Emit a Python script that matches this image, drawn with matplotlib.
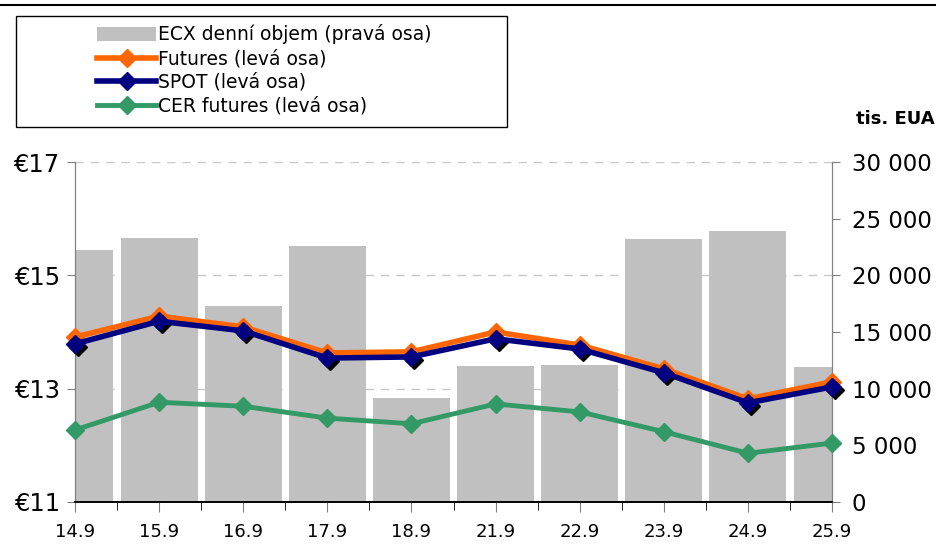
import matplotlib
matplotlib.use('Agg')
import matplotlib.pyplot as plt
import matplotlib.transforms as mtransforms
from matplotlib.lines import Line2D
from matplotlib.patches import Patch, Rectangle
from matplotlib.ticker import FuncFormatter, MultipleLocator
import numpy as np

dates = ['14.9', '15.9', '16.9', '17.9', '18.9', '21.9', '22.9', '23.9', '24.9', '25.9']
volume = [22200, 23300, 17300, 22600, 9200, 12000, 12100, 23200, 23900, 11900]
futures = [13.91, 14.28, 14.09, 13.63, 13.65, 14.00, 13.77, 13.35, 12.82, 13.12]
spot = [13.79, 14.19, 14.02, 13.54, 13.56, 13.88, 13.70, 13.28, 12.75, 13.03]
cer = [12.27, 12.76, 12.69, 12.48, 12.38, 12.73, 12.59, 12.24, 11.86, 12.04]

plt.rcParams['font.family'] = 'DejaVu Sans'

fig = plt.figure(figsize=(9.37, 5.6), dpi=100)
ax = fig.add_axes([0.080, 0.1036, 0.808, 0.6071])
ax2 = ax.twinx()
x = np.arange(len(dates))

# bars + grid on the right axis (drawn behind the lines)
for g in [10000, 20000, 30000]:
    ax2.axhline(g, color='#c8c8c8', lw=1, ls=(0, (6, 5)), zorder=0)
ax2.bar(x, volume, width=0.915, color='#c0c0c0', zorder=1)
ax2.set_ylim(0, 30000)
ax2.yaxis.set_major_locator(MultipleLocator(5000))
ax2.yaxis.set_major_formatter(FuncFormatter(lambda v, p: f'{int(v):,}'.replace(',', ' ')))

ax.set_zorder(ax2.get_zorder() + 1)
ax.patch.set_visible(False)

ax.plot(x, futures, color='#ff6600', lw=4, marker='D', ms=9, zorder=3, clip_on=False)
shadow = mtransforms.offset_copy(ax.transData, fig=fig, x=3, y=-3, units='dots')
ax.plot(x, spot, ls='none', marker='D', ms=9, color='black', transform=shadow, zorder=3.5, clip_on=False)
ax.plot(x, spot, color='#000080', lw=4, marker='D', ms=9, zorder=4, clip_on=False)
ax.plot(x, cer, color='#339966', lw=3.5, marker='D', ms=9, zorder=3, clip_on=False)

ax.set_xlim(0, 9)
ax.set_ylim(11, 17)
ax.set_yticks([11, 13, 15, 17])
ax.set_yticklabels(['€11', '€13', '€15', '€17'])
ax.set_xticks(x)
ax.set_xticklabels(dates)
ax.set_xticks(x[:-1] + 0.5, minor=True)

for a in (ax, ax2):
    a.spines['top'].set_visible(False)
    a.spines['left'].set_color('#808080')
    a.spines['right'].set_color('#808080')
    a.spines['bottom'].set_color('black')
    a.spines['bottom'].set_linewidth(1.2)

ax.tick_params(axis='y', labelsize=17.5, length=6, color='#808080', pad=5)
ax2.tick_params(axis='y', labelsize=16.5, length=6, color='#808080', pad=8)
ax.tick_params(axis='x', which='major', labelsize=13, length=7, color='#808080', pad=8)
ax.tick_params(axis='x', which='minor', length=6, color='black')

fig.text(0.997, 0.788, 'tis. EUA', ha='right', va='center', fontsize=13, fontweight='bold')

# top rule and legend frame
fig.add_artist(Line2D([0, 1], [0.991, 0.991], color='black', lw=1.5, transform=fig.transFigure))
fig.add_artist(Rectangle((16 / 937, 1 - 127 / 560), 491 / 937, 111 / 560, transform=fig.transFigure,
                         fill=False, edgecolor='black', lw=1))
handles = [
    Patch(facecolor='#c0c0c0', edgecolor='none'),
    Line2D([], [], color='#ff6600', lw=4, marker='D', ms=9),
    Line2D([], [], color='#000080', lw=4, marker='D', ms=9),
    Line2D([], [], color='#339966', lw=3.5, marker='D', ms=9),
]
labels = ['ECX denní objem (pravá osa)', 'Futures (levá osa)', 'SPOT (levá osa)', 'CER futures (levá osa)']
fig.legend(handles, labels, loc='upper left', bbox_to_anchor=(90 / 937, 1 - 17 / 560), frameon=False,
           fontsize=13.5, handlelength=3.1, handletextpad=0.1, labelspacing=0.25, borderaxespad=0)

fig.savefig('out.png', dpi=100)
